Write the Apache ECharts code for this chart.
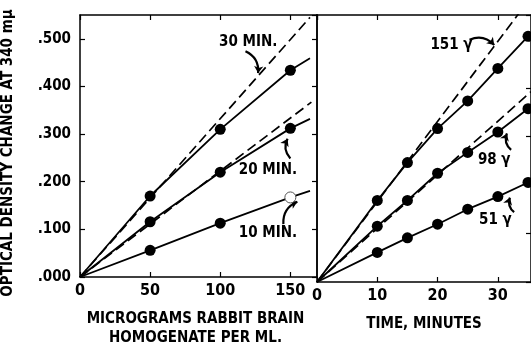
<!DOCTYPE html>
<html>
<head>
<meta charset="utf-8">
<script src="https://cdn.jsdelivr.net/npm/echarts@6/dist/echarts.min.js"></script>
<style>
html,body{margin:0;padding:0;background:#fff;}
#chart{width:531px;height:353px;}
</style>
</head>
<body>
<div id="chart"></div>
<script>
// left panel - micrograms of homogenate per ml
var dosePts = [50, 100, 150];
var od30 = [0.170, 0.310, 0.434];
var od20 = [0.116, 0.220, 0.312];
var od10 = [0.056, 0.113, 0.167];
var doseEnd = 164;                 // where the drawn curves stop
var od30End = 0.459, od20End = 0.332, od10End = 0.181;
var dash30End = [164, 0.545];      // initial-rate lines
var dash20End = [165, 0.367];

// right panel - time in minutes
var timePts = [10, 15, 20, 25, 30, 35];
var od151 = [0.168, 0.246, 0.316, 0.373, 0.440, 0.506];
var od98 = [0.115, 0.168, 0.224, 0.267, 0.309, 0.357];
var od51 = [0.061, 0.091, 0.119, 0.150, 0.176, 0.205];
var dash151End = [33.7, 0.557];
var dash98End = [35.5, 0.392];

var yLabels = ['.000', '.100', '.200', '.300', '.400', '.500'];
var doseLabels = ['0', '50', '100', '150'];
var timeLabels = ['0', '10', '20', '30'];

var FONT = "'Liberation Sans Narrow', 'DejaVu Sans Condensed', sans-serif";
var INK = '#000';

function pairs(xs, ys) {
    return xs.map(function (x, i) { return [x, ys[i]]; });
}

function txt(size) {
    return { fontFamily: FONT, fontWeight: 'bold', fontSize: size, color: INK };
}

var chart = echarts.init(document.getElementById('chart'));

function solid(xi, yi, pts, end) {
    return {
        type: 'line', xAxisIndex: xi, yAxisIndex: yi, silent: true,
        showSymbol: false, symbol: 'none',
        lineStyle: { color: INK, width: 1.8 },
        data: [[0, 0]].concat(pts).concat(end ? [end] : [])
    };
}
function dashed(xi, yi, end) {
    return {
        type: 'line', xAxisIndex: xi, yAxisIndex: yi, silent: true,
        symbol: 'none',
        lineStyle: { color: INK, width: 1.7, type: [10, 5] },
        data: [[0, 0], end]
    };
}
function dots(xi, yi, pts) {
    return {
        type: 'scatter', xAxisIndex: xi, yAxisIndex: yi, silent: true,
        symbolSize: 11, itemStyle: { color: INK, opacity: 1 },
        data: pts, z: 5
    };
}
function notes(xi, yi, items) {
    return {
        type: 'scatter', xAxisIndex: xi, yAxisIndex: yi, silent: true,
        symbolSize: 1, itemStyle: { color: 'rgba(0,0,0,0)', opacity: 1 },
        label: {
            show: true, position: 'inside',
            formatter: function (p) { return p.value[2]; },
            fontFamily: FONT, fontWeight: 'bold', fontSize: 15, color: INK
        },
        data: items, z: 6
    };
}
function arrows(xi, yi, items) {
    return {
        type: 'lines', coordinateSystem: 'cartesian2d',
        xAxisIndex: xi, yAxisIndex: yi, silent: true,
        symbol: ['none', 'arrow'], symbolSize: 7,
        lineStyle: { color: INK, width: 2.2, curveness: 0.35, opacity: 1 },
        data: items.map(function (c) { return { coords: c }; })
    };
}

var frameLine = { show: true, onZero: false, lineStyle: { color: INK, width: 1.5 } };
var tickIn = { show: true, inside: true, length: 5, lineStyle: { color: INK, width: 1.2 } };

var od10Dots = pairs(dosePts, od10);
od10Dots[2] = { value: od10Dots[2], itemStyle: { color: '#fff', borderColor: '#555', borderWidth: 1 } };

var option = {
    animation: false,
    backgroundColor: '#fff',
    grid: [
        { left: 77, top: 15, width: 240, height: 267 },
        { left: 317, top: 15, width: 214, height: 267 }
    ],
    xAxis: [
        {
            gridIndex: 0, type: 'value', min: 0, max: 169, interval: 50,
            axisLine: frameLine, axisTick: tickIn, splitLine: { show: false },
            axisLabel: Object.assign(txt(16), {
                margin: 6, showMaxLabel: false,
                formatter: function (v) { return doseLabels[Math.round(v / 50)] || ''; }
            }),
            name: 'MICROGRAMS RABBIT BRAIN\nHOMOGENATE PER ML.',
            nameLocation: 'middle', nameGap: 33,
            nameTextStyle: Object.assign(txt(15), { lineHeight: 19, padding: [0, 6, 0, 0] })
        },
        {
            gridIndex: 0, type: 'value', position: 'top', min: 0, max: 169, interval: 50,
            axisLine: frameLine, axisTick: tickIn, axisLabel: { show: false }, splitLine: { show: false }
        },
        {
            gridIndex: 1, type: 'value', min: 0, max: 35.5, interval: 10,
            axisLine: frameLine, axisTick: tickIn, splitLine: { show: false },
            axisLabel: Object.assign(txt(16), {
                margin: 6, showMaxLabel: false,
                formatter: function (v) { return timeLabels[Math.round(v / 10)] || ''; }
            }),
            name: 'TIME, MINUTES',
            nameLocation: 'middle', nameGap: 33,
            nameTextStyle: Object.assign(txt(15), { lineHeight: 19 })
        },
        {
            gridIndex: 1, type: 'value', position: 'top', min: 0, max: 35.5, interval: 10,
            axisLine: frameLine, axisTick: tickIn, axisLabel: { show: false }, splitLine: { show: false }
        }
    ],
    yAxis: [
        {
            gridIndex: 0, type: 'value', min: 0, max: 0.55, interval: 0.1,
            axisLine: frameLine, axisTick: tickIn, splitLine: { show: false },
            axisLabel: Object.assign(txt(15), {
                margin: 9, showMaxLabel: false,
                formatter: function (v) { return yLabels[Math.round(v * 10)] || ''; }
            }),
            name: 'OPTICAL DENSITY CHANGE AT 340 mμ',
            nameLocation: 'middle', nameGap: 64,
            nameTextStyle: Object.assign(txt(15), { padding: [0, 14, 0, 0] })
        },
        {
            gridIndex: 0, type: 'value', position: 'right', min: 0, max: 0.55, interval: 0.1,
            axisLine: frameLine, axisTick: tickIn, axisLabel: { show: false }, splitLine: { show: false }
        },
        {
            gridIndex: 1, type: 'value', min: 0, max: 0.55, interval: 0.1,
            axisLine: frameLine, axisTick: { show: false }, axisLabel: { show: false }, splitLine: { show: false }
        },
        {
            gridIndex: 1, type: 'value', position: 'right', min: 0, max: 0.55, interval: 0.1,
            axisLine: frameLine, axisTick: tickIn, axisLabel: { show: false }, splitLine: { show: false }
        }
    ],
    series: [
        dashed(0, 0, dash30End),
        dashed(0, 0, dash20End),
        solid(0, 0, pairs(dosePts, od30), [doseEnd, od30End]),
        solid(0, 0, pairs(dosePts, od20), [doseEnd, od20End]),
        solid(0, 0, pairs(dosePts, od10), [doseEnd, od10End]),
        dots(0, 0, pairs(dosePts, od30)),
        dots(0, 0, pairs(dosePts, od20)),
        dots(0, 0, od10Dots),
        notes(0, 0, [[120, 0.493, '30 MIN.'], [134, 0.225, '20 MIN.'], [134, 0.093, '10 MIN.']]),
        arrows(0, 0, [
            [[118, 0.474], [127, 0.428]],
            [[150, 0.249], [148, 0.290]],
            [[145, 0.111], [155, 0.158]]
        ]),

        dashed(2, 2, dash151End),
        dashed(2, 2, dash98End),
        solid(2, 2, pairs(timePts, od151)),
        solid(2, 2, pairs(timePts, od98)),
        solid(2, 2, pairs(timePts, od51)),
        dots(2, 2, pairs(timePts, od151)),
        dots(2, 2, pairs(timePts, od98)),
        dots(2, 2, pairs(timePts, od51)),
        notes(2, 2, [[22.3, 0.487, '151 γ'], [29.4, 0.252, '98 γ'], [29.6, 0.128, '51 γ']]),
        arrows(2, 2, [
            [[25.3, 0.499], [29.4, 0.488]],
            [[32.2, 0.272], [31.5, 0.306]],
            [[32.7, 0.144], [32.0, 0.174]]
        ])
    ]
};

chart.setOption(option);
</script>
</body>
</html>
